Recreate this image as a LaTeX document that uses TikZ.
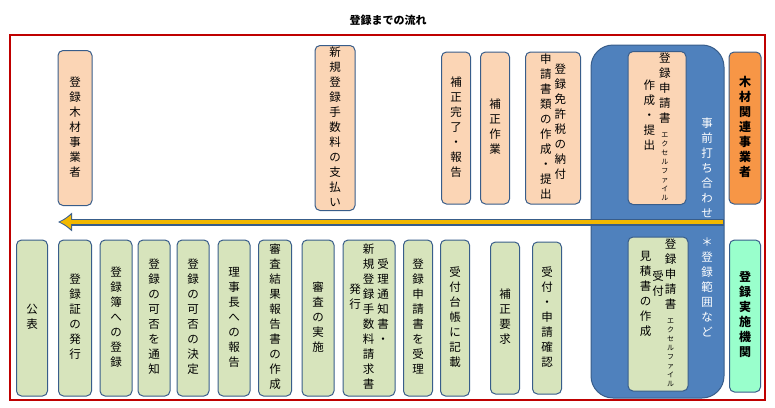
\documentclass[tikz,border=0pt]{standalone}
\usepackage{fontspec}
\setmainfont{Noto Sans CJK JP}
\usepackage{array}
\usetikzlibrary{arrows.meta,calc}
\definecolor{peach}{HTML}{FBD5B5}
\definecolor{sage}{HTML}{D7E4BC}
\definecolor{edgeblue}{HTML}{385D8A}
\definecolor{panelblue}{HTML}{4F81BD}
\definecolor{orangebox}{HTML}{F79646}
\definecolor{mintbox}{HTML}{99FFCC}
\definecolor{arrowgold}{HTML}{F2B800}
\newcommand{\vt}[1]{\begin{tabular}[t]{@{}c@{}}#1\end{tabular}}
\newcommand{\ex}{{\fontsize{7}{8}\selectfont エ}\\[-6pt]{\fontsize{7}{8}\selectfont ク}\\[-6pt]{\fontsize{7}{8}\selectfont セ}\\[-6pt]{\fontsize{7}{8}\selectfont ル}\\[-6pt]{\fontsize{7}{8}\selectfont フ}\\[-6pt]{\fontsize{7}{8}\selectfont ァ}\\[-6pt]{\fontsize{7}{8}\selectfont イ}\\[-6pt]{\fontsize{7}{8}\selectfont ル}}
\tikzset{
  box/.style={draw=edgeblue, line width=1pt, rounded corners=5pt, inner sep=0pt,
    font=\fontsize{11.5}{15}\selectfont},
  upbox/.style={box, fill=peach},
  lowbox/.style={box, fill=sage},
}
\begin{document}
\begin{tikzpicture}[x=1pt,y=-1pt]
  \useasboundingbox (0,0) rectangle (775,407);
  % title and frame
  \node[font=\bfseries\fontsize{11}{13}\selectfont] (title) at (388,20) {登録までの流れ};
  \draw[red!75!black, line width=1.2pt] (10,35) rectangle (765,400);
  \draw[draw=edgeblue, fill=panelblue, line width=1pt, rounded corners=22pt] (591,45) rectangle (724,398);
  \node[text=white, font=\fontsize{11.5}{15}\selectfont, anchor=north] (pre) at (707,113) {\vt{事\\前\\打\\ち\\合\\わ\\せ}};
  \node[text=white, font=\fontsize{11.5}{15}\selectfont, anchor=north] (scope) at (707,232) {\vt{＊\\登\\録\\範\\囲\\な\\ど}};
  % upper row
  \node[upbox, minimum width=34pt, minimum height=155pt] (u1) at (75,128) {\vt{登\\録\\木\\材\\事\\業\\者}};
  \node[upbox, minimum width=40pt, minimum height=155pt] (u2) at (335,128) {\vt{新\\規\\登\\録\\手\\数\\料\\の\\支\\払\\い}};
  \node[upbox, minimum width=29pt, minimum height=152pt] (u3) at (456,128) {\vt{補\\正\\完\\了\\・\\報\\告}};
  \node[upbox, minimum width=29pt, minimum height=152pt] (u4) at (495,128) {\vt{補\\正\\作\\業}};
  \node[upbox, minimum width=55pt, minimum height=152pt] (u5) at (553,128) {\vt{申\\請\\書\\類\\の\\作\\成\\・\\提\\出}\hspace{3pt}\raisebox{-10pt}{\vt{登\\録\\免\\許\\税\\の\\納\\付}}};
  \node[upbox, minimum width=58pt, minimum height=152pt] (u6) at (657,128) {\raisebox{-35pt}{\vt{作\\成\\・\\提\\出}}\hspace{4pt}\raisebox{-8pt}{\vt{登\\録\\申\\請\\書\\\ex}}};
  \node[box, fill=orangebox, font=\bfseries\fontsize{12}{15}\selectfont, minimum width=32pt, minimum height=152pt] (u7) at (745,128) {\vt{木\\材\\関\\連\\事\\業\\者}};
  % flow arrow
  \coordinate (a0) at (724,222);
  \coordinate (a1) at (58,222);
  \draw[edgeblue, line width=7pt, -{Latex[length=14pt,width=20pt]}] (a0) -- (a1);
  \draw[arrowgold, line width=4.5pt, -{Latex[length=11pt,width=15pt]}] ($(a0)+(-1,0)$) -- ($(a1)+(2,0)$);
  % lower row
  \node[lowbox, minimum width=31pt, minimum height=156pt] (l1) at (32,318) {\vt{公\\表}};
  \node[lowbox, minimum width=33pt, minimum height=156pt] (l2) at (75,318) {\vt{登\\録\\証\\の\\発\\行}};
  \node[lowbox, minimum width=32pt, minimum height=156pt] (l3) at (116,318) {\vt{登\\録\\簿\\へ\\の\\登\\録}};
  \node[lowbox, minimum width=32pt, minimum height=156pt] (l4) at (154,318) {\vt{登\\録\\の\\可\\否\\を\\通\\知}};
  \node[lowbox, minimum width=32pt, minimum height=156pt] (l5) at (193,318) {\vt{登\\録\\の\\可\\否\\の\\決\\定}};
  \node[lowbox, minimum width=32pt, minimum height=156pt] (l6) at (234,318) {\vt{理\\事\\長\\へ\\の\\報\\告}};
  \node[lowbox, minimum width=33pt, minimum height=156pt] (l7) at (275,318) {\vt{審\\査\\結\\果\\報\\告\\書\\の\\作\\成}};
  \node[lowbox, minimum width=32pt, minimum height=156pt] (l8) at (318,318) {\vt{審\\査\\の\\実\\施}};
  \node[lowbox, minimum width=52pt, minimum height=156pt] (l9) at (369,318) {\raisebox{-40pt}{\vt{発\\行}}\hspace{2pt}\vt{新\\規\\登\\録\\手\\数\\料\\請\\求\\書}\hspace{3pt}\raisebox{-15pt}{\vt{受\\理\\通\\知\\書\\・}}};
  \node[lowbox, minimum width=29pt, minimum height=156pt] (l10) at (418,318) {\vt{登\\録\\申\\請\\書\\を\\受\\理}};
  \node[lowbox, minimum width=29pt, minimum height=156pt] (l11) at (455,318) {\vt{受\\付\\台\\帳\\に\\記\\載}};
  \node[lowbox, minimum width=29pt, minimum height=152pt] (l12) at (505,318) {\vt{補\\正\\要\\求}};
  \node[lowbox, minimum width=29pt, minimum height=152pt] (l13) at (547,318) {\vt{受\\付\\・\\申\\請\\確\\認}};
  \node[lowbox, minimum width=60pt, minimum height=154pt] (l14) at (658,314) {\raisebox{-12pt}{\vt{見\\積\\書\\の\\作\\成}}\hspace{1pt}\raisebox{-32pt}{\vt{受\\付}}\hspace{1pt}\vt{登\\録\\申\\請\\書\\\ex}};
  \node[box, fill=mintbox, font=\bfseries\fontsize{12}{15}\selectfont, minimum width=31pt, minimum height=152pt] (l15) at (745,316) {\vt{登\\録\\実\\施\\機\\関}};
\end{tikzpicture}
\end{document}
